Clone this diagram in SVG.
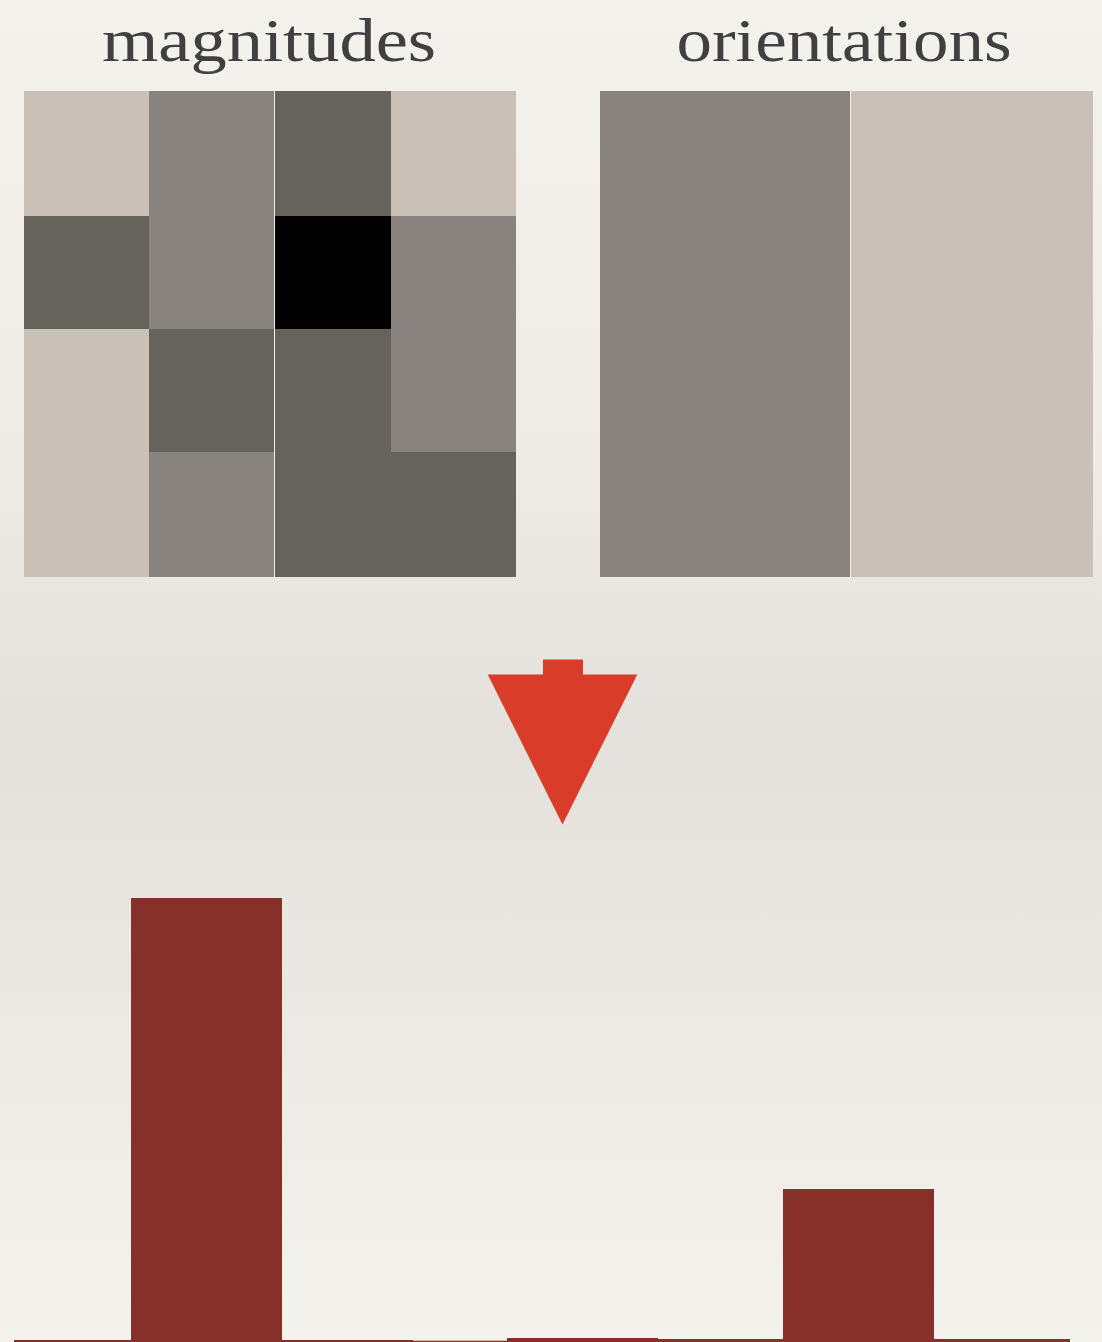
<svg xmlns="http://www.w3.org/2000/svg" width="1102" height="1342" viewBox="0 0 1102 1342">
  <defs>
    <linearGradient id="bg" x1="0" y1="0" x2="0" y2="1">
      <stop offset="0" stop-color="#f4f2ed"/>
      <stop offset="0.35" stop-color="#eeebe6"/>
      <stop offset="0.55" stop-color="#e4e1dc"/>
      <stop offset="0.75" stop-color="#ece9e4"/>
      <stop offset="1" stop-color="#f4f2ed"/>
    </linearGradient>
  </defs>
  <style>
    .title { font-family: "Liberation Serif", "DejaVu Serif", serif; font-size: 62px; fill: #414040; }
    .light { fill: #c9c1b8; }
    .mid { fill: #88837e; }
    .dark { fill: #66625c; }
    .black { fill: #000000; }
    .sep { fill: #f4f2ed; }
    .bar { fill: #87302a; }
    .arrow { fill: #d93d2a; }
  </style>
  <rect x="0" y="0" width="1102" height="1342" fill="url(#bg)"/>

  <g id="magnitudes">
    <text class="title" x="269" y="61" text-anchor="middle" textLength="334" lengthAdjust="spacingAndGlyphs">magnitudes</text>
    <!-- row 0 -->
    <rect class="light" x="24" y="91" width="125" height="125"/>
    <rect class="mid" x="149" y="91" width="125" height="238"/>
    <rect class="dark" x="275" y="91" width="116" height="125"/>
    <rect class="light" x="391" y="91" width="125" height="125"/>
    <!-- row 1 -->
    <rect class="dark" x="24" y="216" width="125" height="113"/>
    <rect class="black" x="275" y="216" width="116" height="113"/>
    <rect class="mid" x="391" y="216" width="125" height="236"/>
    <!-- row 2 -->
    <rect class="light" x="24" y="329" width="125" height="248"/>
    <rect class="dark" x="149" y="329" width="125" height="123"/>
    <rect class="dark" x="275" y="329" width="116" height="248"/>
    <!-- row 3 -->
    <rect class="mid" x="149" y="452" width="125" height="125"/>
    <rect class="dark" x="391" y="452" width="125" height="125"/>
    <rect class="sep" x="274" y="91" width="1" height="486"/>
  </g>

  <g id="orientations">
    <text class="title" x="844" y="61" text-anchor="middle" textLength="335" lengthAdjust="spacingAndGlyphs">orientations</text>
    <rect class="mid" x="600" y="91" width="250" height="486"/>
    <rect class="light" x="851" y="91" width="242" height="486"/>
    <rect class="sep" x="850" y="91" width="1" height="486"/>
  </g>

  <g id="connectors">
    <g id="arrow">
      <rect class="arrow" x="543" y="659.5" width="40" height="16"/>
      <polygon class="arrow" points="487.7,674.5 637.3,674.5 562.5,824.5"/>
    </g>
  </g>

  <g id="histogram">
    <rect class="bar" x="14" y="1340" width="117" height="2"/>
    <rect class="bar" x="131" y="898" width="151" height="444"/>
    <rect class="bar" x="282" y="1340" width="131" height="2"/>
    <rect class="bar" x="413" y="1340.7" width="94" height="1.3"/>
    <rect class="bar" x="507" y="1338" width="151" height="4"/>
    <rect class="bar" x="658" y="1339" width="125" height="3"/>
    <rect class="bar" x="783" y="1189" width="151" height="153"/>
    <rect class="bar" x="934" y="1339" width="136" height="3"/>
  </g>
</svg>
